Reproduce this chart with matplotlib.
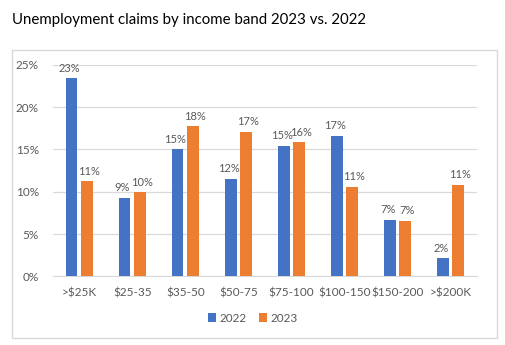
import numpy as np
import matplotlib
matplotlib.use('Agg')
from matplotlib import pyplot as plt
from matplotlib.patches import Rectangle

plt.rcParams['font.family'] = ['Lato', 'DejaVu Sans']

bands = ['>$25K', '$25-35', '$35-50', '$50-75', '$75-100', '$100-150', '$150-200', '>$200K']
claims_2022 = [23.4, 9.3, 15.0, 11.55, 15.4, 16.6, 6.65, 2.15]
claims_2023 = [11.25, 9.95, 17.75, 17.05, 15.85, 10.55, 6.55, 10.8]

BLUE = '#4472C4'
ORANGE = '#ED7D31'
TEXT = '#595959'
GRID = '#D9D9D9'

fig = plt.figure(figsize=(5.06, 3.45), dpi=100)
ax = fig.add_axes([0.104, 0.199, 0.839, 0.613])

# outer chart frame like an Excel chart object
fig.patches.append(Rectangle((12 / 506, 1 - 338 / 345), 485 / 506, 288 / 345,
                             transform=fig.transFigure, fill=False,
                             edgecolor=GRID, linewidth=1))

fig.text(12 / 506, 1 - 20 / 345, 'Unemployment claims by income band 2023 vs. 2022',
         fontsize=10.8, color='black', va='center', ha='left')

x = np.arange(len(bands))
w = 0.22
off = 0.145
b1 = ax.bar(x - off, claims_2022, w, color=BLUE, label='2022', zorder=3)
b2 = ax.bar(x + off, claims_2023, w, color=ORANGE, label='2023', zorder=3)

# value labels, nudged a touch outward so neighbours don't collide
for bars, nudge in ((b1, -0.04), (b2, 0.04)):
    for r in bars:
        v = r.get_height()
        ax.text(r.get_x() + r.get_width() / 2 + nudge, v + 0.55, '%d%%' % round(v),
                ha='center', va='bottom', fontsize=8, color=TEXT)

ax.set_xlim(-0.5, len(bands) - 0.5)
ax.set_ylim(0, 25)
ax.set_yticks(np.arange(0, 26, 5))
ax.set_yticklabels(['%d%%' % t for t in range(0, 26, 5)])
ax.set_xticks(x)
ax.set_xticklabels(bands)
ax.tick_params(axis='both', length=0, labelsize=8.5, labelcolor=TEXT)
ax.tick_params(axis='y', pad=10)
ax.tick_params(axis='x', pad=8)
ax.grid(axis='y', color=GRID, linewidth=0.9, zorder=0)
for s in ['top', 'right', 'left']:
    ax.spines[s].set_visible(False)
ax.spines['bottom'].set_color(GRID)

leg = fig.legend(handles=[b1, b2], labels=['2022', '2023'], loc='center',
                 bbox_to_anchor=(0.5, 1 - 318 / 345), ncol=2, frameon=False,
                 fontsize=8.5, handlelength=0.7, handleheight=0.7,
                 handletextpad=0.3, columnspacing=1.0)
for t in leg.get_texts():
    t.set_color(TEXT)

fig.savefig('out.png', dpi=100)
